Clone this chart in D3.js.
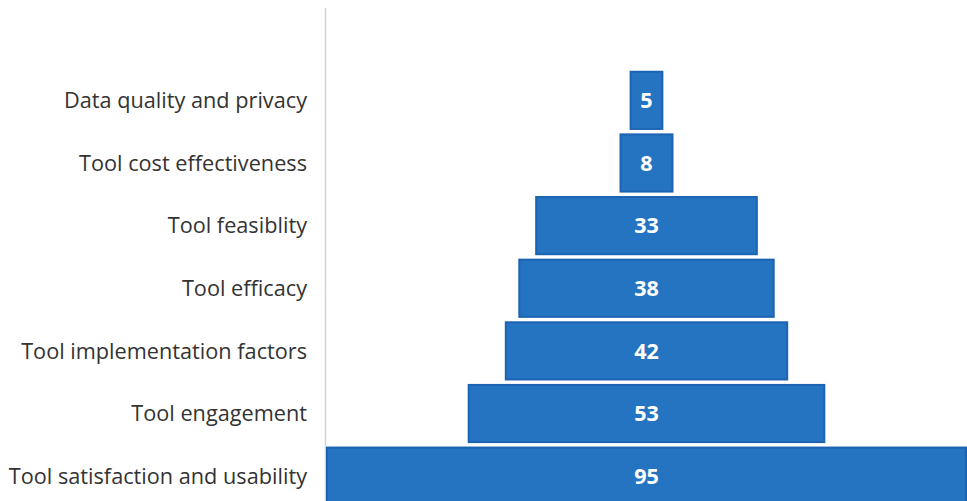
<!DOCTYPE html>
<html>
<head>
<meta charset="utf-8">
<script src="https://cdn.jsdelivr.net/npm/d3@7"></script>
<style>
  body { margin: 0; background: #fff; }
  svg { display: block; }
</style>
</head>
<body>
<svg id="chart" width="967" height="501"></svg>
<script>
// categorias de arriba hacia abajo
const categories = [
    "Data quality and privacy",
    "Tool cost effectiveness",
    "Tool feasiblity",
    "Tool efficacy",
    "Tool implementation factors",
    "Tool engagement",
    "Tool satisfaction and usability"
];
const values = [5, 8, 33, 38, 42, 53, 95];

const svg = d3.select("#chart");
const maxVal = d3.max(values);

// escala simetrica alrededor del centro (embudo)
const x = d3.scaleLinear()
    .domain([-maxVal / 2, maxVal / 2])
    .range([326, 967]);

const y = d3.scaleBand()
    .domain(categories)
    .range([69.5, 507])
    .paddingInner(0.055)
    .paddingOuter(0.02);

const rows = categories.map((c, i) => ({cat: c, value: values[i]}));

// linea del eje vertical
svg.append("line")
    .attr("x1", 325.5).attr("x2", 325.5)
    .attr("y1", 8).attr("y2", 501)
    .attr("stroke", "#d4d4d8")
    .attr("stroke-width", 1.5);

// barras
const bars = svg.selectAll(".bar")
    .data(rows)
    .enter()
    .append("g")
    .attr("class", "bar");

bars.append("rect")
    .attr("x", d => x(-d.value / 2))
    .attr("y", d => y(d.cat))
    .attr("width", d => x(d.value / 2) - x(-d.value / 2))
    .attr("height", y.bandwidth())
    .attr("fill", "#1c64b3");

bars.append("rect")
    .attr("x", d => x(-d.value / 2) + 2)
    .attr("y", d => y(d.cat) + 2)
    .attr("width", d => x(d.value / 2) - x(-d.value / 2) - 4)
    .attr("height", y.bandwidth() - 4)
    .attr("fill", "#2474c1");

bars.append("text")
    .attr("x", d => (x(-d.value / 2) + x(d.value / 2)) / 2)
    .attr("y", d => y(d.cat) + y.bandwidth() / 2)
    .attr("dy", "0.36em")
    .attr("text-anchor", "middle")
    .attr("fill", "#fff")
    .attr("font-family", "'Open Sans', sans-serif")
    .attr("font-weight", "bold")
    .attr("font-size", "21.5px")
    .text(d => d.value);

// etiquetas de categoria
svg.selectAll(".label")
    .data(rows)
    .enter()
    .append("text")
    .attr("class", "label")
    .attr("x", 307)
    .attr("y", d => y(d.cat) + y.bandwidth() / 2)
    .attr("dy", "0.36em")
    .attr("text-anchor", "end")
    .attr("fill", "#333")
    .attr("font-family", "'Open Sans', sans-serif")
    .attr("font-size", "21.7px")
    .text(d => d.cat);
</script>
</body>
</html>
